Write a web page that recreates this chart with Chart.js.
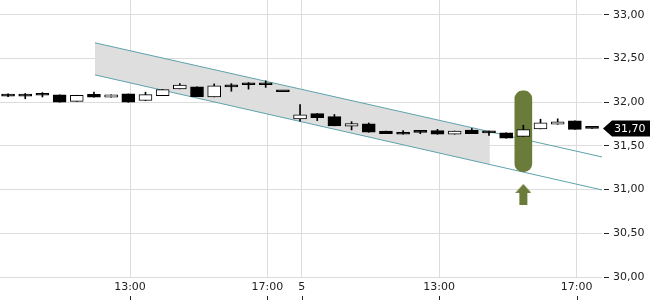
<!DOCTYPE html>
<html>
<head>
<meta charset="utf-8">
<style>
  html, body { margin: 0; padding: 0; background: #fff; }
  #wrap { width: 650px; height: 300px; }
</style>
<script src="https://cdn.jsdelivr.net/npm/chart.js@4.4.1/dist/chart.umd.min.js"></script>
</head>
<body>
<div id="wrap"><canvas id="chart"></canvas></div>
<script>
// half-hour candles, day 1 from 9:30, day "5" from 9:00
const opens  = [32.07, 32.07, 32.08, 32.085, 32.01, 32.09, 32.058, 32.095, 32.02, 32.076, 32.153, 32.176, 32.061, 32.185, 32.20, 32.21, 32.12,
                31.81, 31.87, 31.835, 31.726, 31.752, 31.67, 31.657, 31.655, 31.675, 31.634, 31.68, 31.65, 31.65, 31.61, 31.695, 31.748, 31.786, 31.70];
const highs  = [32.095, 32.10, 32.11, 32.085, 32.08, 32.115, 32.084, 32.095, 32.115, 32.145, 32.213, 32.176, 32.21, 32.213, 32.225, 32.245, 32.12,
                31.973, 31.87, 31.86, 31.778, 31.763, 31.67, 31.675, 31.675, 31.69, 31.67, 31.70, 31.67, 31.65, 31.737, 31.806, 31.81, 31.786, 31.70];
const lows   = [32.065, 32.04, 32.06, 32.00, 32.01, 32.058, 32.058, 32.00, 32.02, 32.076, 32.153, 32.065, 32.061, 32.126, 32.15, 32.17, 32.12,
                31.783, 31.79, 31.73, 31.683, 31.657, 31.64, 31.634, 31.64, 31.634, 31.634, 31.64, 31.62, 31.59, 31.61, 31.695, 31.748, 31.69, 31.70];
const closes = [32.07, 32.07, 32.08, 32.00, 32.08, 32.058, 32.084, 32.00, 32.087, 32.145, 32.195, 32.065, 32.187, 32.175, 32.20, 32.20, 32.12,
                31.855, 31.824, 31.73, 31.755, 31.657, 31.64, 31.634, 31.655, 31.634, 31.67, 31.64, 31.65, 31.59, 31.687, 31.763, 31.775, 31.69, 31.70];

// x tick positions (candle index) and their labels
const tickPos    = [7.1, 15.1, 17.1, 25.1, 33.1];
const tickLabels = ['13:00', '17:00', '5', '13:00', '17:00'];

// trend channel (index, price)
const channelUpper = [{x: 5.06, y: 32.68}, {x: 34.58, y: 31.374}];
const channelLower = [{x: 5.06, y: 32.313}, {x: 34.58, y: 30.996}];
const shadeUpper   = [{x: 5.06, y: 32.68}, {x: 28.05, y: 31.663}];
const shadeLower   = [{x: 5.06, y: 32.313}, {x: 28.05, y: 31.288}];

// highlighted candle and arrow below it
const markX = 30;
const markRange = [31.206, 32.13];
const arrowY = 30.945;

const idx = opens.map((_, i) => i);
const green = '#6b7c3a';

// up-arrow glyph used as point style
const arrow = document.createElement('canvas');
arrow.width = 16;
arrow.height = 21;
(function () {
  const g = arrow.getContext('2d');
  g.fillStyle = green;
  g.beginPath();
  g.moveTo(8, 0);
  g.lineTo(16, 9);
  g.lineTo(12, 9);
  g.lineTo(12, 21);
  g.lineTo(4, 21);
  g.lineTo(4, 9);
  g.lineTo(0, 9);
  g.closePath();
  g.fill();
})();

const lastTag = {
  id: 'lastTag',
  afterDraw(chart) {
    const ctx = chart.ctx;
    const last = closes[closes.length - 1];
    const y = Math.round(chart.scales.y.getPixelForValue(last)) + 0.5;
    const x0 = chart.chartArea.right + 1;
    ctx.save();
    ctx.fillStyle = '#000';
    ctx.beginPath();
    ctx.moveTo(x0, y);
    ctx.lineTo(x0 + 9, y - 8);
    ctx.lineTo(650, y - 8);
    ctx.lineTo(650, y + 8);
    ctx.lineTo(x0 + 9, y + 8);
    ctx.closePath();
    ctx.fill();
    ctx.fillStyle = '#fff';
    ctx.font = '11px "DejaVu Sans"';
    ctx.textBaseline = 'middle';
    ctx.fillText(last.toFixed(2).replace('.', ','), x0 + 11, y + 1);

    // small marks under the time labels
    ctx.strokeStyle = '#222';
    ctx.lineWidth = 1;
    const xs = chart.scales.x;
    tickPos.forEach(v => {
      const px = Math.round(xs.getPixelForValue(v)) + 0.5;
      ctx.beginPath();
      ctx.moveTo(px, 296);
      ctx.lineTo(px, 300);
      ctx.stroke();
    });
    ctx.restore();
  }
};

new Chart(document.getElementById('chart'), {
  type: 'bar',
  data: {
    datasets: [{
      data: idx.map(i => ({x: i, y: [opens[i], closes[i]]})),
      backgroundColor: idx.map(i => closes[i] > opens[i] ? '#fff' : '#000'),
      borderColor: '#000',
      borderWidth: 1,
      borderSkipped: false,
      barThickness: 13,
      minBarLength: 2,
      grouped: false,
      order: 1
    }, {
      data: idx.map(i => ({x: i, y: [lows[i], highs[i]]})),
      backgroundColor: '#000',
      barThickness: 1,
      grouped: false,
      order: 2
    }, {
      data: [{x: markX, y: markRange}],
      backgroundColor: green,
      barThickness: 17,
      borderRadius: 8,
      borderSkipped: false,
      grouped: false,
      order: 3
    }, {
      type: 'scatter',
      data: [{x: markX, y: arrowY}],
      pointStyle: arrow,
      order: 3
    }, {
      type: 'line',
      data: channelUpper,
      borderColor: '#5ea3ad',
      borderWidth: 1,
      pointRadius: 0,
      fill: false,
      order: 4
    }, {
      type: 'line',
      data: channelLower,
      borderColor: '#5ea3ad',
      borderWidth: 1,
      pointRadius: 0,
      fill: false,
      order: 4
    }, {
      type: 'line',
      data: shadeUpper,
      borderWidth: 0,
      pointRadius: 0,
      backgroundColor: '#dedede',
      fill: '+1',
      order: 5
    }, {
      type: 'line',
      data: shadeLower,
      borderWidth: 0,
      pointRadius: 0,
      fill: false,
      order: 5
    }]
  },
  options: {
    responsive: true,
    maintainAspectRatio: false,
    animation: false,
    layout: { padding: 0, autoPadding: false },
    plugins: { legend: { display: false }, tooltip: { enabled: false } },
    scales: {
      x: {
        type: 'linear',
        min: -0.47,
        max: 34.58,
        offset: false,
        afterBuildTicks: s => { s.ticks = tickPos.map(v => ({value: v})); },
        afterFit: s => { s.height = 23; s.paddingLeft = 0; s.paddingRight = 0; },
        grid: { color: '#dcdcdc', drawTicks: false, offset: false },
        border: { display: false },
        ticks: {
          autoSkip: false,
          maxRotation: 0,
          padding: 4,
          color: '#222',
          font: { family: 'DejaVu Sans', size: 11 },
          callback: (v, i) => tickLabels[i]
        }
      },
      y: {
        position: 'right',
        min: 30,
        max: 33.17,
        afterBuildTicks: s => {
          s.ticks = s.ticks.filter(t => Math.abs(t.value * 2 - Math.round(t.value * 2)) < 1e-6);
        },
        afterFit: s => { s.width = 48; s.paddingTop = 0; s.paddingBottom = 0; },
        grid: { color: '#dcdcdc', tickColor: '#222', tickLength: 7, tickBorderDash: [0, 2, 5] },
        border: { display: false },
        ticks: {
          stepSize: 0.5,
          padding: 4,
          color: '#222',
          font: { family: 'DejaVu Sans', size: 11 },
          callback: v => v.toFixed(2).replace('.', ',')
        }
      }
    }
  },
  plugins: [lastTag]
});
</script>
</body>
</html>
